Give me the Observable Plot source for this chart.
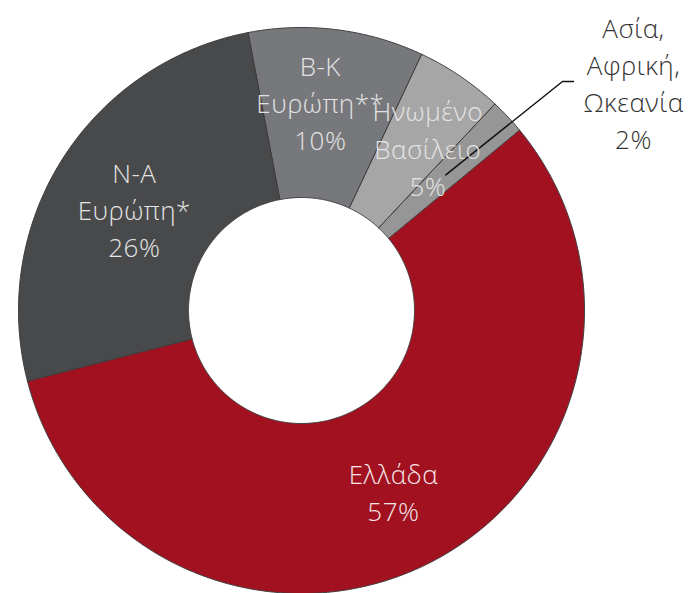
<!DOCTYPE html>
<html>
<head>
<meta charset="utf-8">
<script src="https://cdn.jsdelivr.net/npm/d3@7"></script>
<script src="https://cdn.jsdelivr.net/npm/@observablehq/plot@0.6"></script>
<style>
  html, body { margin: 0; padding: 0; background: #fff; }
  #chart svg { display: block; }
  #chart text { letter-spacing: 0.5px; }
</style>
</head>
<body>
<div id="chart"></div>
<script>
// ---- data ----
const categories = ["Ελλάδα", "N-A Ευρώπη*", "B-K Ευρώπη**", "Ηνωμένο Βασίλειο", "Ασία, Αφρική, Ωκεανία"];
const labelNames = ["Ελλάδα", "N-A\nΕυρώπη*", "B-K\nΕυρώπη**", "Ηνωμένο\nΒασίλειο", "Ασία,\nΑφρική,\nΩκεανία"];
const shares = [57, 26, 10, 5, 2];
const sliceColors = ["#A2111F", "#48494B", "#77787B", "#A6A6A6", "#969696"];

// ---- layout (in radius units) ----
const W = 690, H = 593;
const R = 283;                 // outer radius in px
const cx = 301, cy = 310;      // centre in px
const inner = 113 / R;         // hole ratio
const start = 50.4 * Math.PI / 180;

const xDomain = [-cx / R, (W - cx) / R];
const yDomain = [-(H - cy) / R, cy / R];

const pie = d3.pie().sort(null).value(d => d.share)
  .startAngle(start).endAngle(start + 2 * Math.PI);
const rows = categories.map((c, i) => ({category: c, name: labelNames[i], share: shares[i], i}));
const arcs = pie(rows);

// polygon points per slice
const ringPts = [];
for (const a of arcs) {
  const n = Math.max(4, Math.ceil((a.endAngle - a.startAngle) / (Math.PI / 360)));
  for (let k = 0; k <= n; k++) {
    const t = a.startAngle + (a.endAngle - a.startAngle) * k / n;
    ringPts.push({category: a.data.category, x: Math.sin(t), y: Math.cos(t)});
  }
  for (let k = n; k >= 0; k--) {
    const t = a.startAngle + (a.endAngle - a.startAngle) * k / n;
    ringPts.push({category: a.data.category, x: inner * Math.sin(t), y: inner * Math.cos(t)});
  }
}

// label anchor (centroid at mid-ring radius)
const arcGen = d3.arc().innerRadius(inner).outerRadius(1);
const nudge = [[2, 4], [0, 4], [-6, -13], [15, 0]]; // px tweaks
const inside = arcs.slice(0, 4).map((a, j) => {
  const c = arcGen.centroid(a);
  return {
    x: c[0] + nudge[j][0] / R,
    y: -c[1] - nudge[j][1] / R,
    text: a.data.name + "\n" + a.data.share + "%",
    fill: j === 0 ? "#f3e4e6" : "#e4e4e4"
  };
});
const other = arcs[4];
const oc = arcGen.centroid(other);
const outLabel = {x: (633 - cx) / R, y: (cy - 81) / R, text: other.data.name + "\n" + other.data.share + "%"};
const leader = [
  {x: oc[0], y: -oc[1]},
  {x: (562 - cx) / R, y: outLabel.y},
  {x: (573 - cx) / R, y: outLabel.y}
];

const font = "'Open Sans', 'Segoe UI', sans-serif";

const chart = Plot.plot({
  width: W, height: H, margin: 0,
  style: {fontFamily: font, background: "#fff"},
  x: {domain: xDomain, axis: null},
  y: {domain: yDomain, axis: null},
  color: {domain: categories, range: sliceColors},
  marks: [
    Plot.line(ringPts, {x: "x", y: "y", z: "category", fill: "category",
      stroke: "#3d3d3d", strokeWidth: 1, curve: "linear-closed"}),
    Plot.line(leader, {x: "x", y: "y", stroke: "#111", strokeWidth: 1.5}),
    Plot.text(inside, {x: "x", y: "y", text: "text", fill: d => d.fill,
      fontSize: 26, fontWeight: 300, lineHeight: 1.43, textAnchor: "middle", lineAnchor: "middle"}),
    Plot.text([outLabel], {x: "x", y: "y", text: "text", fill: "#333",
      fontSize: 26, fontWeight: 300, lineHeight: 1.43, textAnchor: "middle", lineAnchor: "middle"})
  ]
});
document.getElementById("chart").appendChild(chart);
</script>
</body>
</html>
